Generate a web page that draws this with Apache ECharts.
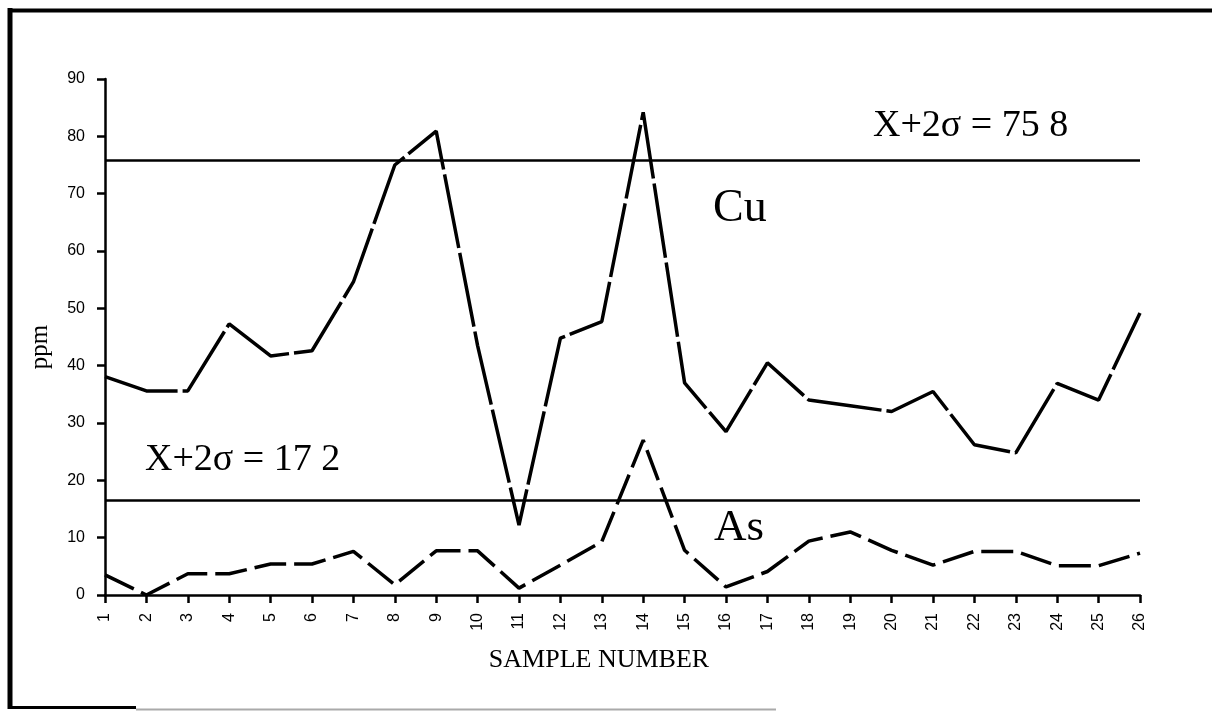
<!DOCTYPE html>
<html>
<head>
<meta charset="utf-8">
<script src="https://cdn.jsdelivr.net/npm/echarts@6/dist/echarts.min.js"></script>
<style>
html,body{margin:0;padding:0;background:#fff;}
#chart{width:1212px;height:711px;}
</style>
</head>
<body>
<div id="chart"></div>
<script>
var samples = ['1','2','3','4','5','6','7','8','9','10','11','12','13','14','15','16','17','18','19','20','21','22','23','24','25','26'];
var cuValues = [38.1, 35.6, 35.6, 47.3, 41.7, 42.6, 54.6, 75.0, 80.9, 43.5, 12.2, 44.8, 47.7, 84.2, 37.0, 28.5, 40.5, 34.0, 33.0, 32.0, 35.5, 26.2, 24.8, 36.9, 34.0, 49.2];
var asValues = [3.5, 0.0, 3.7, 3.7, 5.4, 5.4, 7.6, 1.8, 7.7, 7.7, 1.2, 5.2, 9.3, 27.0, 7.8, 1.4, 4.1, 9.4, 11.0, 7.8, 5.2, 7.6, 7.6, 5.1, 5.1, 7.3];
var cuThreshold = 75.8;
var asThreshold = 16.5;
var cuThresholdLabel = 'X+2σ = 75 8';
var asThresholdLabel = 'X+2σ = 17 2';
var xAxisTitle = 'SAMPLE NUMBER';
var yAxisTitle = 'ppm';
var yTicks = {min: 0, max: 90, interval: 10};

var chart = echarts.init(document.getElementById('chart'), null, {renderer: 'canvas'});
var serif = '"Liberation Serif", "Times New Roman", serif';
var sans = '"Liberation Sans", Arial, sans-serif';

function thresholdLine(v) {
  return {
    silent: true,
    symbol: ['none', 'none'],
    label: {show: false},
    lineStyle: {color: '#000', type: 'solid', width: 2.5},
    data: [{yAxis: v}]
  };
}

var option = {
  animation: false,
  backgroundColor: '#fff',
  grid: {left: 105, right: 72, top: 79, bottom: 116, containLabel: false},
  xAxis: {
    type: 'category',
    data: samples,
    boundaryGap: false,
    axisLine: {lineStyle: {color: '#000', width: 2.5}},
    axisTick: {show: true, alignWithLabel: true, length: 8, lineStyle: {color: '#000', width: 2.5}},
    axisLabel: {rotate: 90, color: '#000', fontFamily: sans, fontSize: 16, margin: 18, interval: 0},
    splitLine: {show: false}
  },
  yAxis: {
    type: 'value',
    min: yTicks.min,
    max: yTicks.max,
    interval: yTicks.interval,
    axisLine: {show: true, lineStyle: {color: '#000', width: 2.5}},
    axisTick: {show: true, length: 8, lineStyle: {color: '#000', width: 2.5}},
    axisLabel: {color: '#000', fontFamily: sans, fontSize: 16, margin: 20},
    splitLine: {show: false}
  },
  series: [
    {
      name: 'Cu',
      type: 'line',
      data: cuValues,
      symbol: 'none',
      lineStyle: {color: '#000', width: 3.5, type: [75, 5]},
      markLine: thresholdLine(cuThreshold)
    },
    {
      name: 'As',
      type: 'line',
      data: asValues,
      symbol: 'none',
      lineStyle: {color: '#000', width: 3.5, type: [32, 8]},
      markLine: thresholdLine(asThreshold)
    }
  ],
  graphic: [
    {type: 'line', shape: {x1: 10, y1: 8, x2: 10, y2: 709}, style: {stroke: '#000', lineWidth: 5}, silent: true},
    {type: 'line', shape: {x1: 8, y1: 10.5, x2: 1212, y2: 10.5}, style: {stroke: '#000', lineWidth: 4}, silent: true},
    {type: 'line', shape: {x1: 8, y1: 707.5, x2: 136, y2: 707.5}, style: {stroke: '#000', lineWidth: 3}, silent: true},
    {type: 'line', shape: {x1: 136, y1: 709.5, x2: 776, y2: 709.5}, style: {stroke: '#aaa', lineWidth: 2}, silent: true},
    {type: 'text', left: 873, top: 107, style: {text: cuThresholdLabel, font: '38px ' + serif, fill: '#000'}, silent: true},
    {type: 'text', left: 145, top: 441, style: {text: asThresholdLabel, font: '38px ' + serif, fill: '#000'}, silent: true},
    {type: 'text', left: 713, top: 186, style: {text: 'Cu', font: '46px ' + serif, fill: '#000'}, silent: true},
    {type: 'text', left: 714, top: 506, style: {text: 'As', font: '45px ' + serif, fill: '#000'}, silent: true},
    {type: 'text', x: 599, y: 660, style: {text: xAxisTitle, font: '26px ' + serif, fill: '#000', textAlign: 'center', textVerticalAlign: 'middle'}, silent: true},
    {type: 'text', x: 40, y: 347, rotation: Math.PI / 2, style: {text: yAxisTitle, font: '25px ' + serif, fill: '#000', textAlign: 'center', textVerticalAlign: 'middle'}, silent: true}
  ]
};
chart.setOption(option);
</script>
</body>
</html>
